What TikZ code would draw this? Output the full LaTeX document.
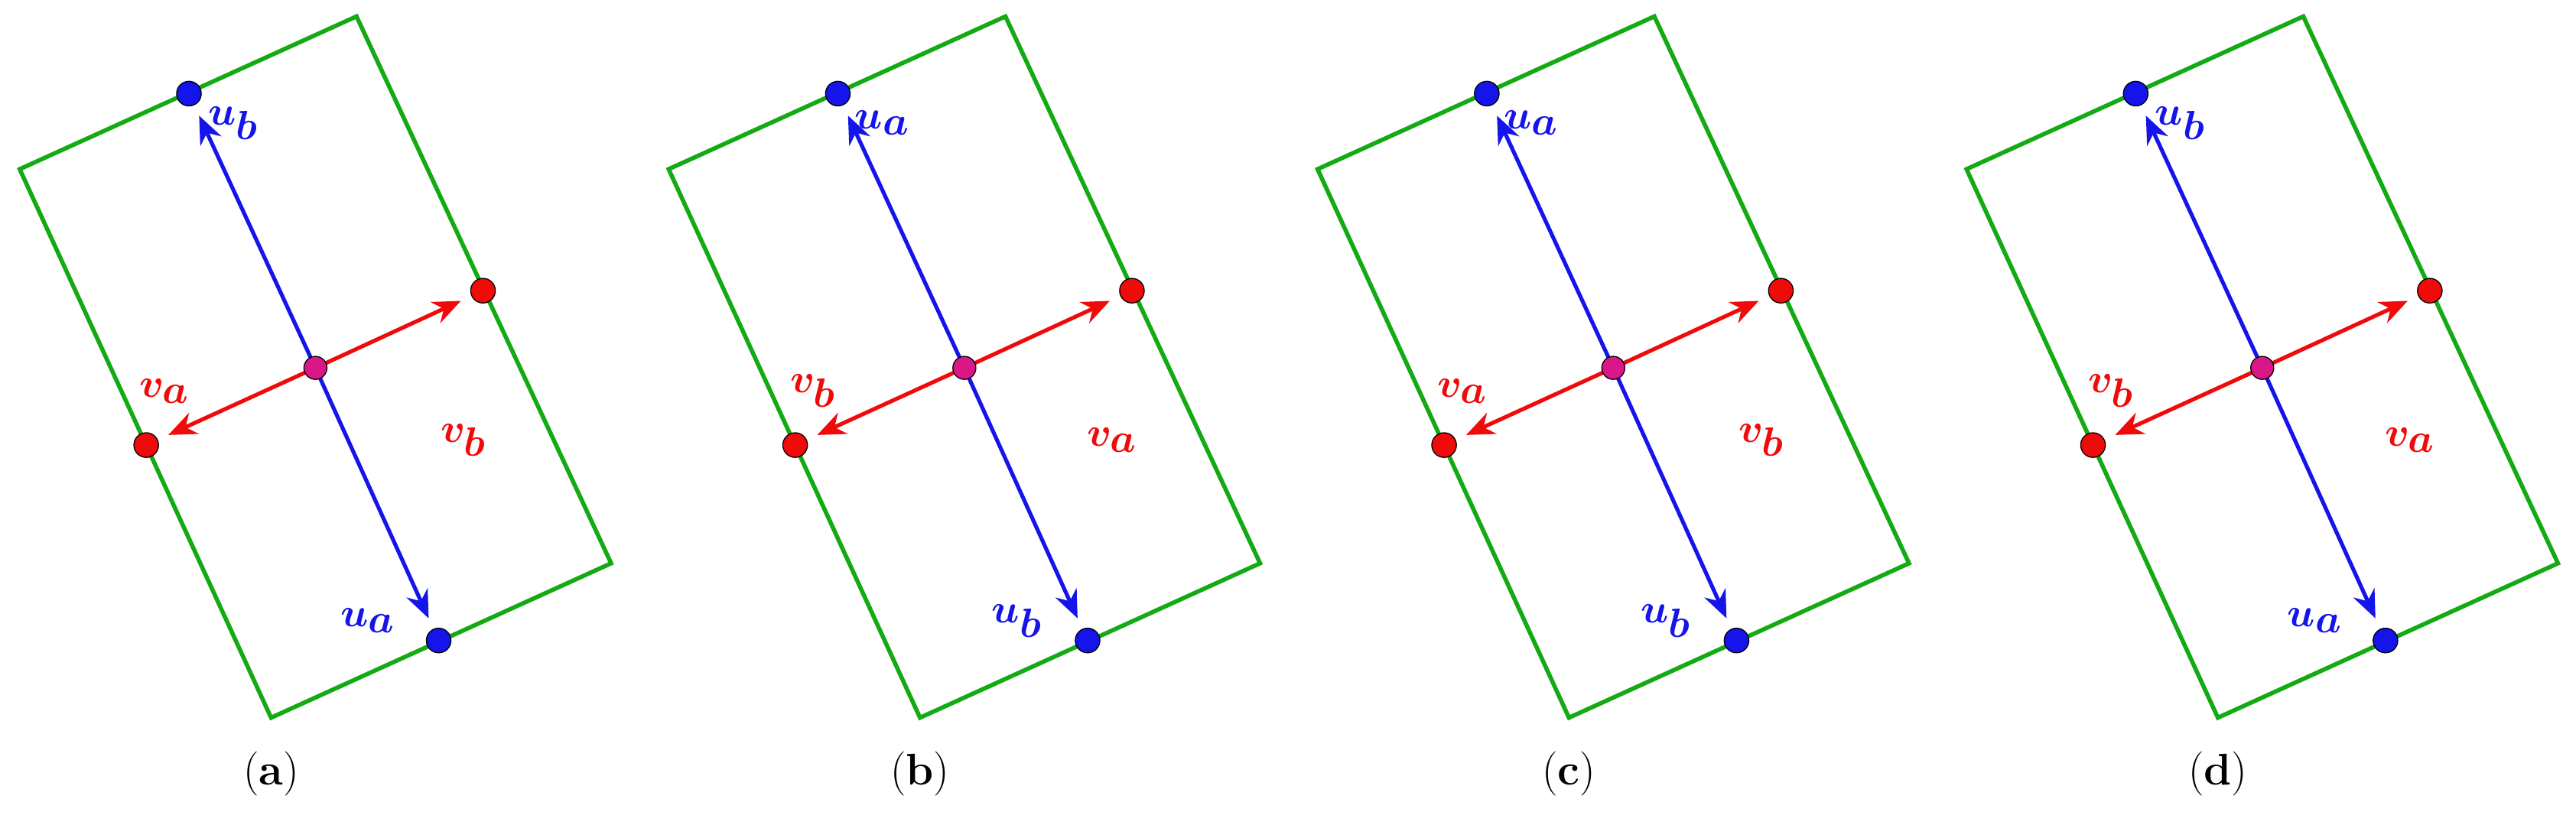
\documentclass[tikz,border=0pt]{standalone}
\usepackage{amsmath,bm}
\usetikzlibrary{arrows.meta}
\definecolor{gr}{RGB}{20,170,20}
\definecolor{bl}{RGB}{20,20,235}
\definecolor{rd}{RGB}{240,10,10}
\tikzset{
 box/.style={draw=gr,line width=2.6pt},
 dot/.style={circle,draw=black,line width=0.6pt,minimum size=15pt,inner sep=0pt},
 barr/.style={draw=bl,line width=2.4pt,-{Stealth[length=17pt,width=14pt]},shorten >=7pt},
 rarr/.style={draw=rd,line width=2.4pt,-{Stealth[length=17pt,width=14pt]},shorten >=7pt},
 lab/.style={font=\fontsize{40}{44}\selectfont,inner sep=0pt},
 captext/.style={font=\fontsize{27}{30}\selectfont}
}
\newcommand{\panel}[7]{%
 \begin{scope}[shift={(#1,224)}]
  \draw[box] (-180,-121) coordinate (#2r1) -- (25,-214) coordinate (#2r2) -- (180,119) coordinate (#2r3) -- (-27,213) coordinate (#2r4) -- cycle;
  \node[dot,fill=bl] (#2t) at (-77,-167) {};
  \node[dot,fill=bl] (#2b) at (75,166) {};
  \node[dot,fill=rd] (#2l) at (-103,47) {};
  \node[dot,fill=rd] (#2r) at (102,-47) {};
  \coordinate (#2c) at (0,0);
  \draw[barr] (#2c) -- (#2t);
  \draw[barr] (#2c) -- (#2b);
  \draw[rarr] (#2c) -- (#2l);
  \draw[rarr] (#2c) -- (#2r);
  \node[dot,fill=magenta!80!violet,minimum size=14pt] (#2m) at (#2c) {};
  \node[lab,text=bl] (#2lt) at (-50,-149) {$\bm{u}_{\bm{#3}}$};
  \node[lab,text=bl] (#2lb) at (32,154) {$\bm{u}_{\bm{#4}}$};
  \node[lab,text=rd] (#2ll) at (-92,14) {$\bm{v}_{\bm{#5}}$};
  \node[lab,text=rd] (#2lr) at (90,44) {$\bm{v}_{\bm{#6}}$};
  \node[captext] (#2cap) at (-27,247) {(\textbf{#7})};
 \end{scope}}
\begin{document}
\begin{tikzpicture}[x=1pt,y=-1pt]
\useasboundingbox (0,0) rectangle (1568,502);
\panel{192}{A}{b}{a}{a}{b}{a}
\panel{587}{B}{a}{b}{b}{a}{b}
\panel{982}{C}{a}{b}{a}{b}{c}
\panel{1377}{D}{b}{a}{b}{a}{d}
\end{tikzpicture}
\end{document}
